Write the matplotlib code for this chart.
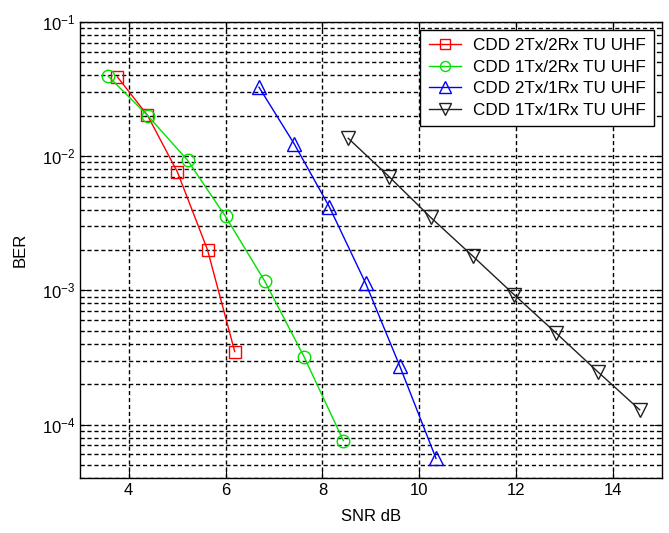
import matplotlib
matplotlib.use("Agg")
import matplotlib.pyplot as plt
from matplotlib.ticker import LogLocator, FixedLocator, NullFormatter

plt.rcParams['font.family'] = ['Liberation Sans', 'DejaVu Sans']

labels = ["CDD 2Tx/2Rx TU UHF", "CDD 1Tx/2Rx TU UHF",
          "CDD 2Tx/1Rx TU UHF", "CDD 1Tx/1Rx TU UHF"]

snr_22 = [3.77, 4.39, 5.01, 5.63, 6.19]
ber_22 = [0.039, 0.0202, 0.0076, 0.0020, 3.5e-4]

snr_12 = [3.58, 4.40, 5.22, 6.00, 6.81, 7.62, 8.43]
ber_12 = [0.0395, 0.0200, 0.0093, 0.00356, 0.00117, 3.2e-4, 7.6e-5]

snr_21 = [6.69, 7.42, 8.14, 8.89, 9.59, 10.34]
ber_21 = [0.0327, 0.0123, 0.0042, 0.00113, 2.75e-4, 5.6e-5]

snr_11 = [8.53, 9.38, 10.23, 11.10, 11.95, 12.82, 13.69, 14.54]
ber_11 = [0.0136, 0.0070, 0.0035, 0.0018, 9.3e-4, 4.8e-4, 2.45e-4, 1.29e-4]

x_ticks = [4, 6, 8, 10, 12, 14]

fig = plt.figure(figsize=(6.69, 5.33), dpi=100)
ax = fig.add_axes([0.1196, 0.1032, 0.8699, 0.8555])

ms = 9
ax.semilogy(snr_22, ber_22, color='red', marker='s', mfc='none', ms=ms, lw=1, mew=1, label=labels[0])
ax.semilogy(snr_12, ber_12, color='#00e000', marker='o', mfc='none', ms=ms, lw=1, mew=1, label=labels[1])
ax.semilogy(snr_21, ber_21, color='blue', marker='^', mfc='none', ms=ms + 1, lw=1, mew=1, label=labels[2])
ax.semilogy(snr_11, ber_11, color='#202020', marker='v', mfc='none', ms=ms + 1, lw=1, mew=1, label=labels[3])

ax.set_xlim(3, 15)
ax.set_ylim(4e-5, 1e-1)
ax.xaxis.set_major_locator(FixedLocator(x_ticks))
ax.yaxis.set_major_locator(LogLocator(base=10, numticks=10))
ax.yaxis.set_minor_locator(LogLocator(base=10, subs=range(2, 10), numticks=20))
ax.yaxis.set_minor_formatter(NullFormatter())

grid_kw = dict(color='black', linestyle=(0, (3, 2)), linewidth=1.0)
ax.grid(True, which='major', axis='both', **grid_kw)
ax.grid(True, which='minor', axis='y', **grid_kw)

ax.tick_params(which='both', direction='in', top=True, right=True, labelsize=12)
ax.tick_params(which='major', length=6)
ax.tick_params(which='minor', length=3)
for s in ax.spines.values():
    s.set_linewidth(1.0)

ax.set_xlabel('SNR dB', fontsize=12, labelpad=8)
ax.set_ylabel('BER', fontsize=12, labelpad=10)

leg = ax.legend(loc='upper right', fontsize=12.3, fancybox=False, framealpha=1,
                edgecolor='black', borderaxespad=0.45, handlelength=1.9,
                handletextpad=0.7, markerscale=0.8,
                labelspacing=0.38, borderpad=0.5)
leg.get_frame().set_linewidth(1.0)

fig.savefig('out.png', dpi=100)
